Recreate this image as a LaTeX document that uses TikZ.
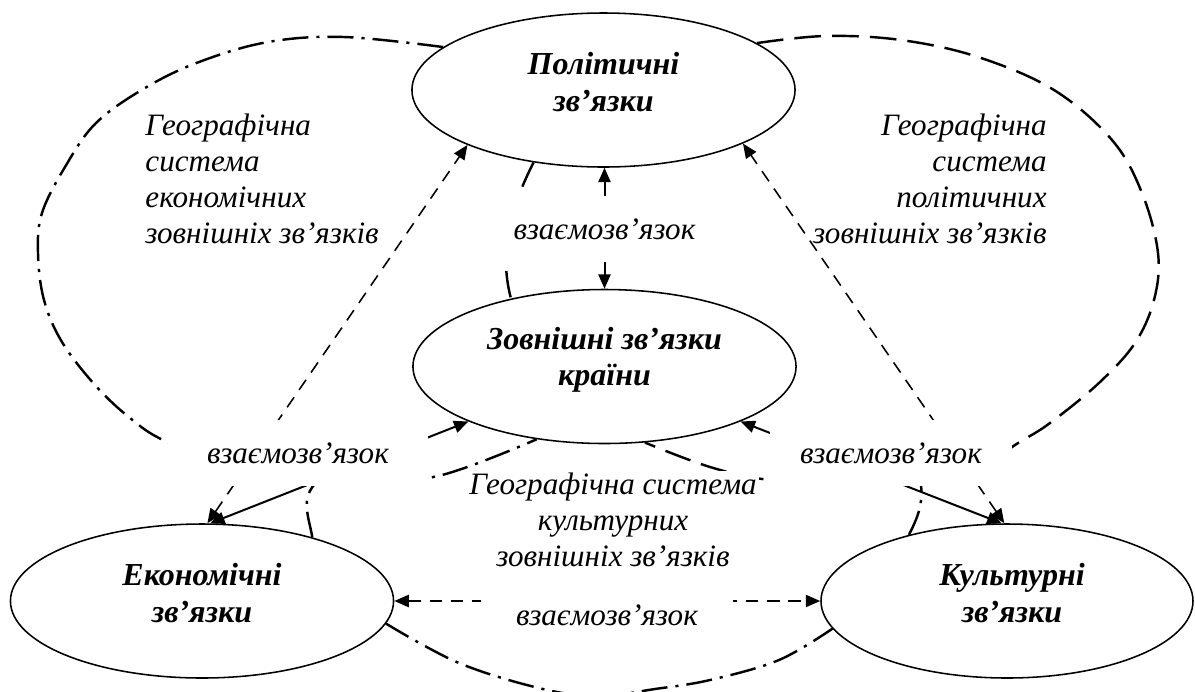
\documentclass[tikz,border=0pt]{standalone}
\usepackage{fontspec}
\setmainfont{Liberation Serif}
\usetikzlibrary{shapes.geometric,arrows.meta}
\tikzset{
  unit/.style={ellipse, draw, line width=0.7pt, minimum width=172.4pt, minimum height=69.3pt, inner sep=0pt},
  unittext/.style={align=center, inner sep=0pt, font=\fontsize{14.4}{16.3}\selectfont\bfseries\itshape},
  systext/.style={inner sep=0pt, font=\fontsize{14}{16.1}\selectfont\itshape},
  linkbox/.style={fill=white, inner sep=0pt, font=\fontsize{14}{16.1}\selectfont\itshape},
  econ/.style={line width=1.1pt, dash pattern=on 11.7pt off 3.6pt on 1.4pt off 3.6pt},
  cult/.style={econ},
  polit/.style={line width=1.1pt, dash pattern=on 12pt off 5pt},
  tie/.style={line width=0.9pt, {Triangle[length=6.5pt,width=5.5pt]}-{Triangle[length=6.5pt,width=5.5pt]}},
  tiedash/.style={tie, line width=0.7pt, dash pattern=on 5.5pt off 4pt}
}
\begin{document}
\begin{tikzpicture}[x=0.45pt, y=-0.45pt]
  \path[use as bounding box, fill=white] (0,0) rectangle (1195,691);
  \path node (pol) at (603.5,90)  [unit] {}
        node (zov) at (604.5,366.5) [unit] {}
        node (eco) at (202,601)   [unit] {}
        node (cul) at (1007,601)  [unit, minimum width=167.4pt] {};
  \path node (pol-t) at (603.5,82) [unittext] {Політичні\\зв’язки}
        node (zov-t) at (604.5,360) [unittext] {Зовнішні зв’язки\\країни}
        node (eco-t) at (202,593)   [unittext] {Економічні\\зв’язки}
        node (cul-t) at (1012,593)  [unittext] {Культурні\\зв’язки};
  % geographic systems
  \draw[econ] plot[smooth, tension=0.6] coordinates {(pol.165) (344,37) (268,42) (199,62) (145,88) (96,123) (65,167) (42,213) (38,253) (44,300) (62,342) (95,385) (130,418) (167,442) (250,475) (350,482) (438,476) (zov.227)};
  \draw[polit] plot[smooth, tension=0.6] coordinates {(pol.17) (825,36) (901,40) (978,57) (1054,90) (1112,140) (1142,193) (1158,253) (1154,300) (1135,343) (1100,382) (1054,420) (1023,440) (960,474) (860,482) (771,480) (710,467) (zov.298)};
  \draw[polit] (pol.226) .. controls (512,205) and (498,250) .. (zov.144);
  \draw[cult] plot[smooth, tension=0.6] coordinates {(eco.353) (459,663) (543,689) (600,696) (655,689) (710,680) (779,660) (cul.189)};
  \draw[cult] (eco.30) .. controls (308,512) and (296,492) .. (330,472);
  \draw[cult] (cul.146) .. controls (919,515) and (928,495) .. (915,462);
  % links
  \draw[tie] (zov.north) -- (zov.north |- pol.south);
  \draw[tiedash] (eco.86) -- (pol.202);
  \draw[tie] (eco.84) -- (zov.202);
  \draw[tiedash] (cul.92) -- (pol.339);
  \draw[tie] (cul.94) -- (zov.338);
  \draw[tiedash] (eco.east) -- (cul.west);
  \path node (lnk-c) at (604.5,229) [linkbox, minimum width=96.8pt, minimum height=29.7pt] {взаємозв’язок}
        node (lnk-l) at (298,453)   [linkbox, minimum width=117pt, minimum height=29.7pt] {взаємозв’язок}
        node (lnk-r) at (891,453)   [linkbox, minimum width=108.9pt, minimum height=29.7pt] {взаємозв’язок}
        node (lnk-b) at (607,615)   [linkbox, minimum width=113.4pt, minimum height=22.5pt] {взаємозв’язок};
  \path node (sys-e) at (145,179)  [systext, anchor=west, align=left] {Географічна\\система\\економічних\\зовнішніх зв’язків}
        node (sys-p) at (1047,179) [systext, anchor=east, align=right] {Географічна\\система\\політичних\\зовнішніх зв’язків}
        node (sys-c) at (613,520)  [linkbox, inner sep=1pt, align=center] {Географічна система\\культурних\\зовнішніх зв’язків};
\end{tikzpicture}
\end{document}
